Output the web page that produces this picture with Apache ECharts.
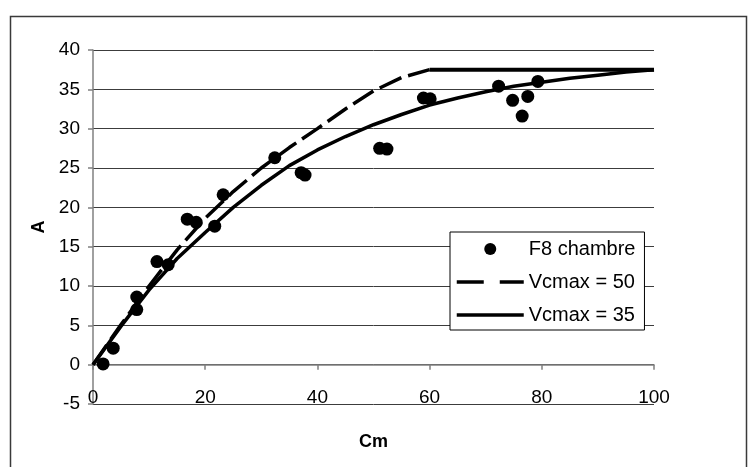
<!DOCTYPE html>
<html>
<head>
<meta charset="utf-8">
<script src="https://cdn.jsdelivr.net/npm/echarts@6/dist/echarts.min.js"></script>
<style>
html,body{margin:0;padding:0;background:#fff;}
#chart{width:751px;height:467px;}
</style>
</head>
<body>
<div id="chart"></div>
<script>
// ---- data ----
const curveCm = [0, 5, 10, 15, 20, 25, 30, 35, 40, 45, 50, 55, 60, 65, 70, 75, 80, 85, 90, 95, 100];
const vcmax50 = [0, 5.1, 10.0, 14.6, 18.6, 22.0, 25.0, 27.6, 30.0, 32.5, 34.8, 36.5, 37.5, 37.5, 37.5, 37.5, 37.5, 37.5, 37.5, 37.5, 37.5];
const vcmax35 = [0, 4.9, 9.5, 13.5, 16.8, 20.0, 22.8, 25.3, 27.3, 29.0, 30.5, 31.8, 33.0, 33.9, 34.7, 35.4, 35.9, 36.4, 36.8, 37.2, 37.5];
const chamberCm = [1.8, 3.6, 7.8, 7.8, 11.4, 13.4, 16.8, 18.4, 21.7, 23.2, 32.4, 37.1, 37.8, 51.1, 52.4, 58.9, 60.1, 72.3, 74.8, 76.5, 77.5, 79.3];
const chamberA  = [0.1, 2.1, 8.6, 7.0, 13.1, 12.7, 18.5, 18.1, 17.6, 21.6, 26.3, 24.4, 24.1, 27.5, 27.4, 33.9, 33.8, 35.4, 33.6, 31.6, 34.1, 36.0];
const xTicks = {min: 0, max: 100, step: 20};
const yTicks = {min: -5, max: 40, step: 5};
const names = {scatter: 'F8 chambre', v50: 'Vcmax = 50', v35: 'Vcmax = 35', x: 'Cm', y: 'A'};

// ---- build ----
const font = "'Liberation Sans', Arial, sans-serif";
const pairs = (xs, ys) => xs.map((x, i) => [x, ys[i]]);
const v50All = pairs(curveCm, vcmax50);
const plateauStart = vcmax50.indexOf(Math.max(...vcmax50));
const v50Rise = v50All.slice(0, plateauStart + 1);
const v50Flat = v50All.slice(plateauStart);

const gridTop = 50, gridBottom = 63, H = 467;
const plotH = H - gridTop - gridBottom;
// x axis drawn where A = 0 (distance above the bottom edge of the plot)
const zeroOffset = -plotH * (0 - yTicks.min) / (yTicks.max - yTicks.min);

const chart = echarts.init(document.getElementById('chart'), null, {renderer: 'canvas'});
chart.setOption({
  animation: false,
  backgroundColor: '#fff',
  textStyle: {fontFamily: font, color: '#000'},
  grid: {left: 93, right: 97, top: gridTop, bottom: gridBottom, containLabel: false, outerBoundsMode: 'none'},
  graphic: [{
    type: 'rect', left: 8, top: 14, z: -10,
    shape: {width: 736, height: 470},
    style: {fill: 'none', stroke: '#3a3a3a', lineWidth: 1.5}
  }],
  xAxis: {
    type: 'value', min: xTicks.min, max: xTicks.max, interval: xTicks.step,
    position: 'bottom', offset: zeroOffset,
    name: names.x, nameLocation: 'middle', nameGap: 68,
    nameTextStyle: {fontFamily: font, fontSize: 18, fontWeight: 'bold', color: '#000'},
    axisLine: {show: true, onZero: false, lineStyle: {color: '#808080', width: 1.5}},
    axisTick: {show: true, inside: false, length: 5, lineStyle: {color: '#808080', width: 1.5}},
    axisLabel: {fontFamily: font, fontSize: 19, color: '#000', margin: 24, showMinLabel: true, showMaxLabel: true},
    splitLine: {show: false}
  },
  yAxis: {
    type: 'value', min: yTicks.min, max: yTicks.max, interval: yTicks.step,
    name: names.y, nameLocation: 'middle', nameGap: 42, nameRotate: 90,
    nameTextStyle: {fontFamily: font, fontSize: 18, fontWeight: 'bold', color: '#000'},
    axisLine: {show: true, onZero: false, lineStyle: {color: '#808080', width: 1.5}},
    axisTick: {show: true, inside: false, length: 5, lineStyle: {color: '#808080', width: 1.5}},
    axisLabel: {fontFamily: font, fontSize: 19, color: '#000', margin: 13},
    splitLine: {show: true, lineStyle: {color: '#3c3c3c', width: 1}}
  },
  legend: {
    orient: 'vertical', left: 450, top: 232,
    padding: [7, 9, 5, 5],
    backgroundColor: '#fff', borderColor: '#000', borderWidth: 1,
    itemWidth: 67, itemHeight: 12, itemGap: 13,
    selectedMode: false,
    textStyle: {fontFamily: font, fontSize: 20, color: '#000', lineHeight: 20},
    data: [
      {name: names.scatter, icon: 'circle', itemStyle: {color: '#000', opacity: 1}},
      {name: names.v50, lineStyle: {type: [27, 16], width: 3.5, color: '#000'}, itemStyle: {color: 'rgba(0,0,0,0)', opacity: 0, borderWidth: 0}},
      {name: names.v35, lineStyle: {type: 'solid', width: 3.5, color: '#000'}, itemStyle: {color: 'rgba(0,0,0,0)', opacity: 0, borderWidth: 0}}
    ]
  },
  series: [
    {
      name: names.v50, type: 'line', data: v50Rise, symbol: 'none', showSymbol: false,
      lineStyle: {color: '#000', width: 3.5, type: [24, 7]}, itemStyle: {color: '#000'}, z: 2
    },
    {
      name: names.v50, type: 'line', data: v50Flat, symbol: 'none', showSymbol: false,
      lineStyle: {color: '#000', width: 4, type: 'solid'}, itemStyle: {color: '#000'}, z: 2
    },
    {
      name: names.v35, type: 'line', data: pairs(curveCm, vcmax35), symbol: 'none', showSymbol: false,
      lineStyle: {color: '#000', width: 3.5, type: 'solid'}, itemStyle: {color: '#000'}, z: 2
    },
    {
      name: names.scatter, type: 'scatter', data: pairs(chamberCm, chamberA),
      symbol: 'circle', symbolSize: 13, itemStyle: {color: '#000', opacity: 1}, z: 3
    }
  ]
});
</script>
</body>
</html>
